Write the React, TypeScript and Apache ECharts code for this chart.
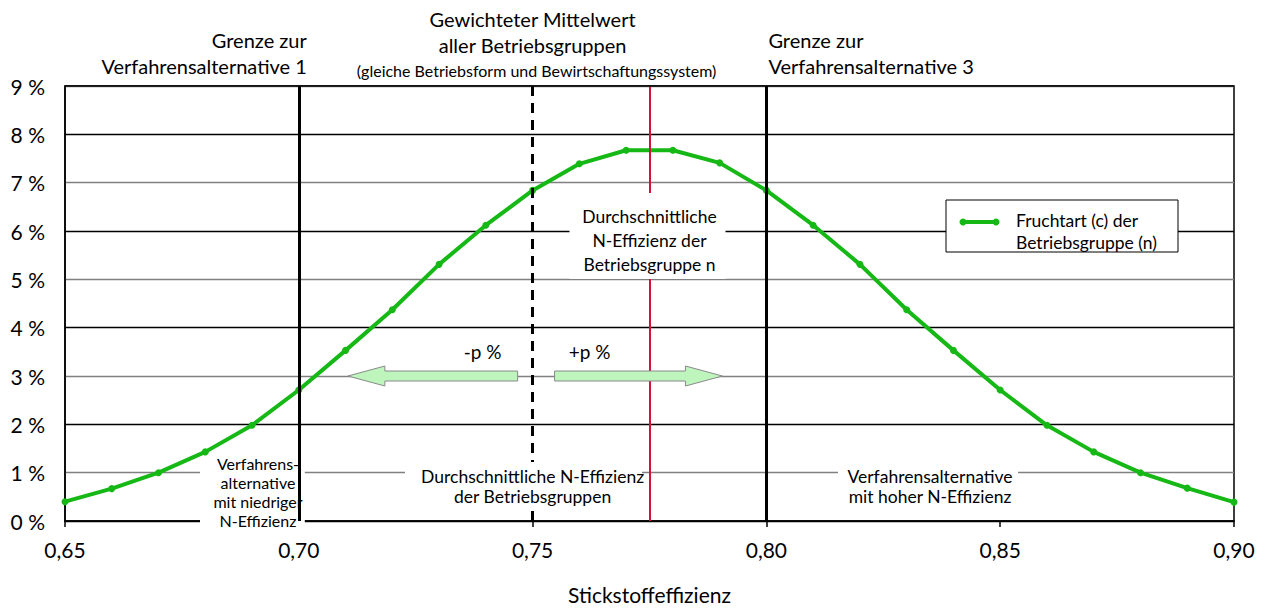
import React, { useEffect, useRef } from "react";
import * as echarts from "echarts";

// ---- data ----
const stickstoffeffizienz = [
  0.65, 0.66, 0.67, 0.68, 0.69, 0.7, 0.71, 0.72, 0.73, 0.74, 0.75, 0.76, 0.77,
  0.78, 0.79, 0.8, 0.81, 0.82, 0.83, 0.84, 0.85, 0.86, 0.87, 0.88, 0.89, 0.9,
];
const anteilProzent = [
  0.4, 0.67, 1.0, 1.43, 1.98, 2.71, 3.53, 4.37, 5.31, 6.12, 6.84, 7.39, 7.67,
  7.67, 7.41, 6.84, 6.12, 5.31, 4.37, 3.53, 2.71, 1.98, 1.43, 1.0, 0.68, 0.39,
];
const xTickValues = [0.65, 0.7, 0.75, 0.8, 0.85, 0.9];
const xTickLabels = ["0,65", "0,70", "0,75", "0,80", "0,85", "0,90"];
const yTickLabels = ["0 %", "1 %", "2 %", "3 %", "4 %", "5 %", "6 %", "7 %", "8 %", "9 %"];
const grenzeAlternative1 = 0.7;
const gewichteterMittelwert = 0.75;
const mittelwertGruppeN = 0.775;
const grenzeAlternative3 = 0.8;
const pPfeilNiveau = 3;
const pPfeilLinks = [0.7468, 0.7105];
const pPfeilRechts = [0.7547, 0.7906];

const GREEN = "#16b816";
const FONT = "Lato, 'Open Sans', sans-serif";

export default function App() {
  const ref = useRef<HTMLDivElement>(null);

  useEffect(() => {
    document.body.style.margin = "0";
    const chart = echarts.init(ref.current!, null, {
      renderer: "svg",
      width: 1273,
      height: 610,
    });
    chart.setOption({
      animation: false,
      backgroundColor: "#fff",
      textStyle: { fontFamily: FONT },
      grid: {
        left: 65,
        top: 86,
        width: 1169,
        height: 441,
        show: true,
        borderColor: "#000",
        borderWidth: 1.5,
        backgroundColor: "transparent",
      },
      xAxis: {
        type: "value",
        min: 0.65,
        max: 0.9,
        interval: 0.05,
        name: "Stickstoffeffizienz",
        nameLocation: "middle",
        nameGap: 63,
        nameTextStyle: { fontSize: 21, color: "#000", fontFamily: FONT },
        axisLine: { show: true, lineStyle: { color: "#000", width: 1.5 } },
        axisTick: { show: true, length: 6, lineStyle: { color: "#000", width: 1.5 } },
        axisLabel: {
          fontSize: 21,
          color: "#000",
          fontFamily: FONT,
          margin: 18,
          formatter: (v: number) => {
            const i = xTickValues.findIndex((t) => Math.abs(t - v) < 1e-6);
            return i >= 0 ? xTickLabels[i] : "";
          },
        },
        splitLine: { show: false },
      },
      yAxis: {
        type: "value",
        min: 0,
        max: 9,
        interval: 1,
        axisLine: { show: true, lineStyle: { color: "#000", width: 1.5 } },
        axisTick: { show: false },
        axisLabel: {
          fontSize: 21,
          color: "#000",
          fontFamily: FONT,
          margin: 20,
          padding: [10, 0, 0, 0],
          formatter: (v: number) => yTickLabels[Math.round(v)],
        },
        splitLine: { show: true, lineStyle: { color: ["#000", "#808080"], width: 1.3 } },
      },
      series: [
        {
          name: "Fruchtart (c) der Betriebsgruppe (n)",
          type: "line",
          data: stickstoffeffizienz.map((x, i) => [x, anteilProzent[i]]),
          symbol: "circle",
          symbolSize: 7,
          showSymbol: true,
          lineStyle: { color: GREEN, width: 4 },
          itemStyle: { color: GREEN },
          z: 4,
        },
        {
          type: "line",
          data: [],
          z: 2,
          markLine: {
            silent: true,
            precision: 4,
            symbol: ["none", "none"],
            label: { show: false },
            data: [
              { xAxis: grenzeAlternative1, lineStyle: { color: "#000", width: 3, type: "solid" } },
              { xAxis: gewichteterMittelwert, lineStyle: { color: "#000", width: 3, type: [10, 7] } },
              { xAxis: mittelwertGruppeN, lineStyle: { color: "#d8103c", width: 2, type: "solid" } },
              { xAxis: grenzeAlternative3, lineStyle: { color: "#000", width: 3, type: "solid" } },
              { yAxis: 9, lineStyle: { color: "#000", width: 1.5, type: "solid" } },
            ],
          },
        },
      ],
    });

    const px = (v: number) => chart.convertToPixel({ xAxisIndex: 0 }, v) as number;
    const py = (v: number) => chart.convertToPixel({ yAxisIndex: 0 }, v) as number;

    const text = (
      t: string,
      x: number,
      y: number,
      size: number,
      align: string = "center",
      lineHeight?: number,
      z: number = 10
    ) => ({
      type: "text",
      x,
      y,
      z,
      silent: true,
      style: {
        text: t,
        font: `${size}px ${FONT}`,
        fill: "#000",
        align,
        verticalAlign: "middle",
        lineHeight: lineHeight ?? Math.round(size * 1.25),
      },
    });
    const box = (x: number, y: number, w: number, h: number, z: number) => ({
      type: "rect",
      z,
      silent: true,
      shape: { x, y, width: w, height: h },
      style: { fill: "#fff", stroke: null },
    });

    const yArrow = py(pPfeilNiveau);
    const arrow = (tail: number, tip: number) => {
      const dir = tip > tail ? 1 : -1;
      const headBack = tip - dir * 37;
      return {
        type: "polygon",
        z: 6,
        silent: true,
        shape: {
          points: [
            [tail, yArrow - 5],
            [headBack, yArrow - 5],
            [headBack, yArrow - 10],
            [tip, yArrow],
            [headBack, yArrow + 10],
            [headBack, yArrow + 5],
            [tail, yArrow + 5],
          ],
        },
        style: { fill: "#bdf5bd", stroke: "#8a8a8a", lineWidth: 1 },
      };
    };

    const xA1 = px(grenzeAlternative1);
    const xMW = px(gewichteterMittelwert);
    const xN = px(mittelwertGruppeN);
    const xA3 = px(grenzeAlternative3);

    chart.setOption({
      graphic: [
        // headings above the plot
        text("Grenze zur\nVerfahrensalternative 1", xA1 + 8, 53, 20, "right", 26),
        text("Gewichteter Mittelwert\naller Betriebsgruppen", xMW, 32, 20, "center", 26),
        text("(gleiche Betriebsform und Bewirtschaftungssystem)", xMW + 4, 70, 16, "center"),
        text("Grenze zur\nVerfahrensalternative 3", xA3 + 2, 53, 20, "left", 26),

        // mean of group n
        box(xN - 80, 193, 156, 86, 8),
        text("Durchschnittliche\nN-Effizienz der\nBetriebsgruppe n", xN, 240, 17.5, "center", 24, 9),

        // arrows
        arrow(px(pPfeilLinks[0]), px(pPfeilLinks[1])),
        arrow(px(pPfeilRechts[0]), px(pPfeilRechts[1])),
        text("-p %", px(pPfeilLinks[0]) - 35, yArrow - 25, 19, "center"),
        text("+p %", px(pPfeilRechts[0]) + 35, yArrow - 25, 19, "center"),

        // lower annotations
        box(200, 452, xA1 + 6 - 200, 80, 1),
        text("Verfahrens-\nalternative\nmit niedriger\nN-Effizienz", 258, 491.5, 16, "center", 19, 1),
        box(405, 462, 237, 47, 8),
        text("Durchschnittliche N-Effizienz\nder Betriebsgruppen", xMW, 486, 17.5, "center", 20, 9),
        box(838, 462, 180, 47, 1),
        text("Verfahrensalternative\nmit hoher N-Effizienz", 930, 486, 17.5, "center", 20, 1),

        // legend
        {
          type: "rect",
          z: 8,
          silent: true,
          shape: { x: 946, y: 200, width: 232, height: 52 },
          style: { fill: "#fff", stroke: "#000", lineWidth: 1 },
        },
        {
          type: "line",
          z: 9,
          silent: true,
          shape: { x1: 963, y1: 222, x2: 996, y2: 222 },
          style: { stroke: GREEN, lineWidth: 4 },
        },
        { type: "circle", z: 9, silent: true, shape: { cx: 963, cy: 222, r: 3.5 }, style: { fill: GREEN } },
        { type: "circle", z: 9, silent: true, shape: { cx: 996, cy: 222, r: 3.5 }, style: { fill: GREEN } },
        text("Fruchtart (c) der\nBetriebsgruppe (n)", 1016, 231.5, 17.5, "left", 22, 9),
      ],
    });

    return () => chart.dispose();
  }, []);

  return (
    <div
      ref={ref}
      style={{ position: "fixed", left: 0, top: 0, width: 1273, height: 610 }}
    />
  );
}
